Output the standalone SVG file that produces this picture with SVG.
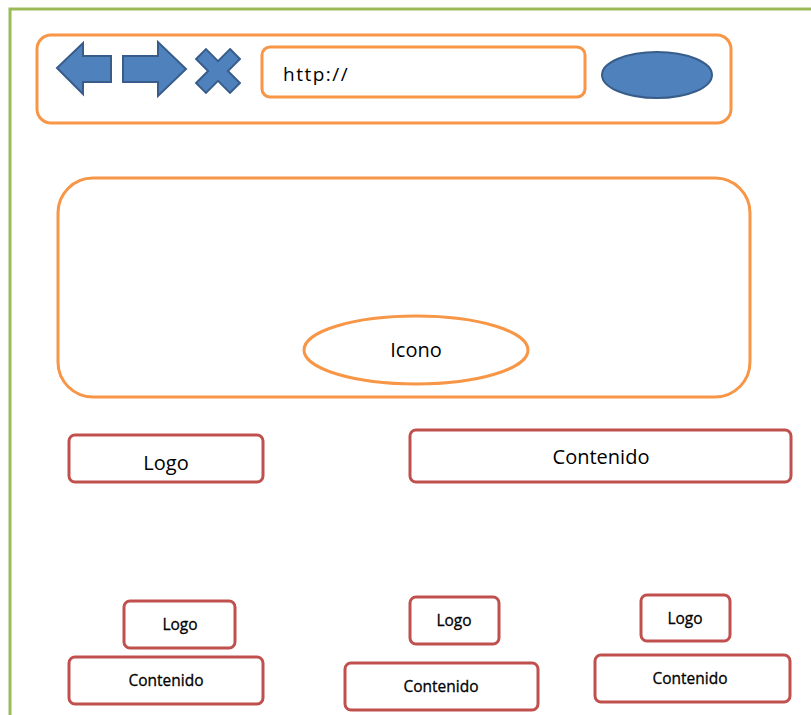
<svg xmlns="http://www.w3.org/2000/svg" width="811" height="715" viewBox="0 0 811 715">
<style>
.frame{fill:none;stroke:#9bbb59;stroke-width:3}
.org{fill:#fff;stroke:#f79646;stroke-width:3}
.red{fill:#fff;stroke:#c0504d;stroke-width:3}
.blue{fill:#4f81bd;stroke:#385d8a;stroke-width:2}
text{font-family:"Open Sans","Liberation Sans",sans-serif;fill:#000;text-anchor:middle;dominant-baseline:central}
.big{font-size:20px}
.sm{font-size:15.5px;stroke:#000;stroke-width:0.3}
</style>
<rect width="811" height="715" fill="#fff"/>
<path class="frame" d="M10,715 V9 H811"/>
<g id="toolbar">
<rect class="org" x="37" y="35" width="694" height="88" rx="14"/>
<polygon id="back" class="blue" points="57,68 83,43 83,56 111,56 111,82 83,82 83,94"/>
<polygon id="forward" class="blue" points="123,56 158,56 158,42 186,69 158,96 158,82 123,82"/>
<polygon id="stop" class="blue" transform="translate(218,71) rotate(45)" points="-7,-24 7,-24 7,-7 24,-7 24,7 7,7 7,24 -7,24 -7,7 -24,7 -24,-7 -7,-7"/>
<g id="url">
<rect class="org" x="262" y="47" width="323" height="50" rx="8"/>
<text x="283" y="74" style="text-anchor:start;font-size:19px;letter-spacing:1.5px">http://</text>
</g>
<ellipse id="go" class="blue" cx="657" cy="75" rx="55" ry="23"/>
</g>
<g id="header">
<rect class="org" x="58" y="178" width="692" height="219" rx="35"/>
<g id="icono">
<ellipse class="org" cx="416" cy="350" rx="112" ry="34"/>
<text class="big" x="416" y="349">Icono</text>
</g>
</g>
<g id="logo-main">
<rect class="red" x="69" y="435" width="194" height="47" rx="6"/>
<text class="big" x="166" y="462">Logo</text>
</g>
<g id="contenido-main">
<rect class="red" x="410" y="430" width="381" height="52" rx="6"/>
<text class="big" x="601" y="456">Contenido</text>
</g>
<g id="logo-1">
<rect class="red" x="124" y="601" width="111" height="47" rx="6"/>
<text class="sm" x="180" y="624">Logo</text>
</g>
<g id="contenido-1">
<rect class="red" x="69" y="657" width="194" height="47" rx="6"/>
<text class="sm" x="166" y="680">Contenido</text>
</g>
<g id="logo-2">
<rect class="red" x="410" y="597" width="89" height="47" rx="6"/>
<text class="sm" x="454" y="620">Logo</text>
</g>
<g id="contenido-2">
<rect class="red" x="345" y="663" width="193" height="47" rx="6"/>
<text class="sm" x="441" y="686">Contenido</text>
</g>
<g id="logo-3">
<rect class="red" x="641" y="595" width="89" height="46" rx="6"/>
<text class="sm" x="685" y="618">Logo</text>
</g>
<g id="contenido-3">
<rect class="red" x="595" y="655" width="195" height="47" rx="6"/>
<text class="sm" x="690" y="678">Contenido</text>
</g>
</svg>
